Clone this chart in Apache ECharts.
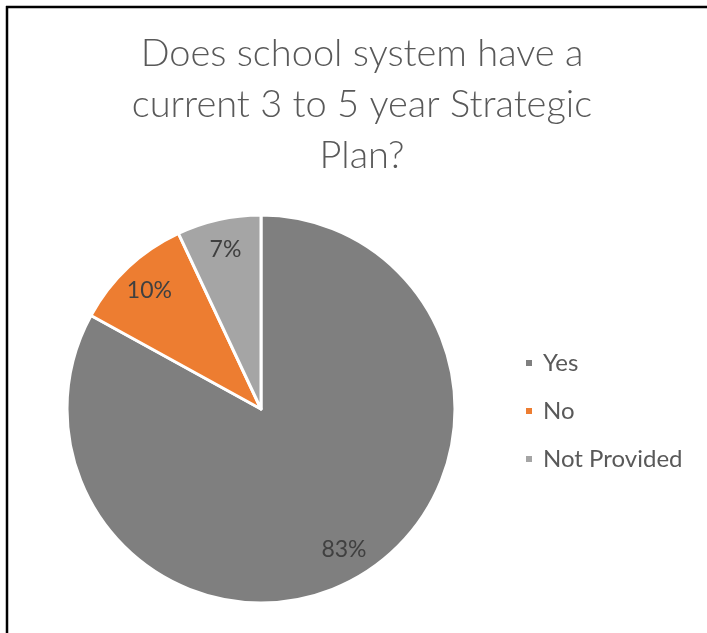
<!DOCTYPE html>
<html>
<head>
<meta charset="utf-8">
<script src="https://cdn.jsdelivr.net/npm/echarts@6/dist/echarts.min.js"></script>
<style>
  html, body { margin: 0; padding: 0; background: #fff; }
  #chart { width: 707px; height: 633px; }
</style>
</head>
<body>
<div id="chart"></div>
<script>
// Survey answers and their shares (percent)
const categories = ['Yes', 'No', 'Not Provided'];
const shares = [83, 10, 7];
const sliceColors = ['#7f7f7f', '#ed7d31', '#a5a5a5'];
const titleText = 'Does school system have a\ncurrent 3 to 5 year Strategic\nPlan?';

const pieData = categories.map((name, i) => ({ name, value: shares[i] }));

const chart = echarts.init(document.getElementById('chart'));
chart.setOption({
  animation: false,
  backgroundColor: '#ffffff',
  color: sliceColors,
  title: {
    text: titleText,
    left: 357,
    top: 23,
    textAlign: 'center',
    textStyle: {
      fontFamily: 'Lato',
      fontWeight: 300,
      fontSize: 38,
      lineHeight: 51,
      color: '#595959'
    }
  },
  legend: {
    orient: 'vertical',
    left: 519,
    top: 346,
    icon: 'rect',
    itemWidth: 8,
    itemHeight: 8,
    itemGap: 24,
    data: categories,
    textStyle: {
      fontFamily: 'Lato',
      fontSize: 24,
      color: '#595959',
      padding: [0, 0, 0, 5]
    }
  },
  graphic: [
    { type: 'line', shape: { x1: 6, y1: 7, x2: 707, y2: 7 }, style: { stroke: '#000', lineWidth: 2.5 } },
    { type: 'line', shape: { x1: 7, y1: 6, x2: 7, y2: 633 }, style: { stroke: '#000', lineWidth: 2.5 } }
  ],
  series: [
    {
      type: 'pie',
      center: [261, 409],
      radius: [0, 194],
      startAngle: 90,
      clockwise: true,
      data: pieData,
      itemStyle: { borderColor: '#ffffff', borderWidth: 3 },
      label: { show: false },
      labelLine: { show: false },
      silent: true
    },
    {
      // label carrier ring: places the percentage text near the outer rim
      type: 'pie',
      center: [261, 409],
      radius: [126, 194],
      startAngle: 90,
      clockwise: true,
      data: pieData,
      silent: true,
      itemStyle: { color: 'rgba(0,0,0,0)', borderWidth: 0 },
      label: {
        show: true,
        position: 'inside',
        formatter: '{c}%',
        fontFamily: 'Lato',
        fontSize: 23,
        color: '#404040'
      },
      labelLine: { show: false }
    }
  ]
});
</script>
</body>
</html>
